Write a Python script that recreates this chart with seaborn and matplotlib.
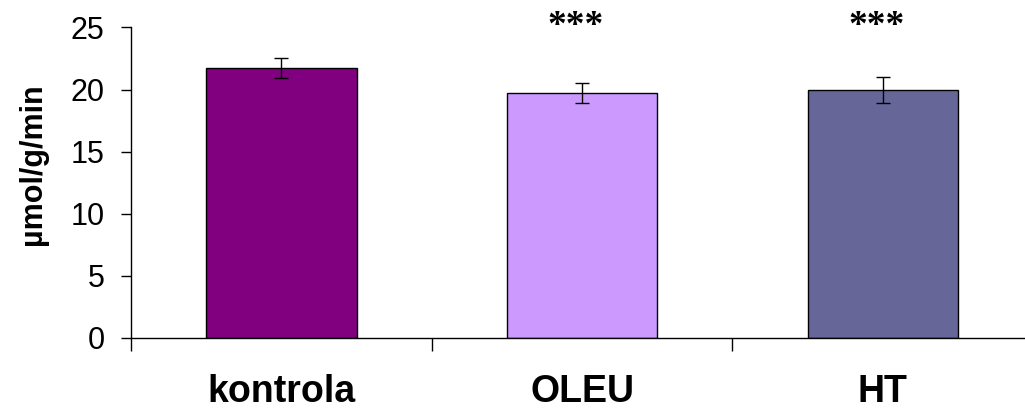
import numpy as np
import matplotlib
matplotlib.use('Agg')
import matplotlib.pyplot as plt
import seaborn as sns
import pandas as pd

# 数据
categories = ['kontrola', 'OLEU', 'HT']
values = [21.75, 19.73, 19.95]
errors = [0.8, 0.8, 1.05]
stars = ['', '***', '***']
bar_colors = ['#800080', '#CC99FF', '#666699']
yticks = [0, 5, 10, 15, 20, 25]

sns.set_style('white')
plt.rcParams['font.family'] = ['Liberation Sans', 'DejaVu Sans']
plt.rcParams['text.color'] = 'black'
plt.rcParams['axes.labelcolor'] = 'black'
plt.rcParams['xtick.color'] = 'black'
plt.rcParams['ytick.color'] = 'black'

df = pd.DataFrame({'group': categories, 'value': values})

fig = plt.figure(figsize=(10.25, 4.12), dpi=100)
ax = fig.add_axes([0.1278, 0.1803, 0.8722, 0.7530])

# 柱状图
sns.barplot(data=df, x='group', y='value', hue='group', palette=bar_colors,
            order=categories, errorbar=None, width=0.5, legend=False,
            saturation=1, edgecolor='black', linewidth=1, ax=ax)

# 误差线
ax.errorbar(np.arange(len(categories)), values, yerr=errors, fmt='none',
            ecolor='black', elinewidth=1, capsize=5, capthick=1)

# 显著性星号
for i, s in enumerate(stars):
    if s:
        ax.text(i - 0.02, 25.05, s, ha='center', va='center', fontsize=27,
                fontweight='bold', family=['Liberation Serif', 'DejaVu Serif'],
                clip_on=False)

# 坐标轴
ax.set_ylim(0, 25)
ax.set_xlim(-0.5, 2.473)
ax.set_yticks(yticks)
ax.set_xlabel('')
ax.set_ylabel('µmol/g/min', fontsize=22, fontweight='bold')
ax.yaxis.set_label_coords(-0.093, 0.56)

for side in ['top', 'right']:
    ax.spines[side].set_visible(False)
for side in ['left', 'bottom']:
    ax.spines[side].set_color('black')
    ax.spines[side].set_linewidth(1)

ax.tick_params(axis='y', direction='out', length=7, width=1, color='black',
               labelsize=22, pad=12, left=True)
ax.tick_params(axis='x', which='major', length=0, labelsize=27, pad=26)
for lab in ax.get_xticklabels():
    lab.set_fontweight('bold')
# 组间分隔刻度
ax.set_xticks([-0.5, 0.5, 1.5], minor=True)
ax.tick_params(axis='x', which='minor', direction='out', length=9, width=1,
               color='black', bottom=True)

plt.savefig('out.png', dpi=100)
